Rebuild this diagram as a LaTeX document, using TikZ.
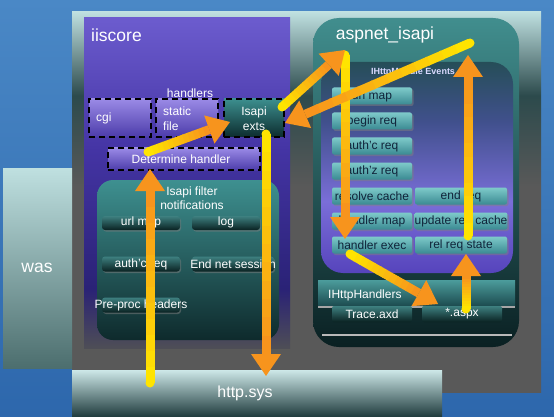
\documentclass[tikz,border=0pt]{standalone}
\usepackage{fontspec}
\setmainfont{Liberation Sans}
\usetikzlibrary{calc,shadows}

\definecolor{bgtop}{HTML}{4A88C6}
\definecolor{bgbot}{HTML}{2D67AC}
\definecolor{frlight}{HTML}{BFE0E0}
\definecolor{frdark}{HTML}{2C4A4C}
\definecolor{frgray}{HTML}{595959}
\definecolor{waslight}{HTML}{BFE0E0}
\definecolor{wasdark}{HTML}{284444}
\definecolor{wasbot}{HTML}{4C6E6E}
\definecolor{httplight}{HTML}{CDE8E8}
\definecolor{httpdark}{HTML}{1E3A3C}
\definecolor{iisA}{HTML}{6C5CCE}
\definecolor{iisB}{HTML}{4434A4}
\definecolor{iisC}{HTML}{2A2276}
\definecolor{iisD}{HTML}{4E4E56}
\definecolor{filtop}{HTML}{3E9090}
\definecolor{filbot}{HTML}{0E2A2C}
\definecolor{purtop}{HTML}{9A8AE6}
\definecolor{purbot}{HTML}{4C3CAA}
\definecolor{teltop}{HTML}{3C8E8E}
\definecolor{telbot}{HTML}{0C2C2E}
\definecolor{asptop}{HTML}{418E8E}
\definecolor{aspbot}{HTML}{0A2022}
\definecolor{modA}{HTML}{264E58}
\definecolor{modM}{HTML}{40508C}
\definecolor{modB}{HTML}{7A6ED8}
\definecolor{modC}{HTML}{5644BC}
\definecolor{btntop}{HTML}{7ECACA}
\definecolor{btnbot}{HTML}{3A8A92}
\definecolor{btntxt}{HTML}{10243A}
\definecolor{dbtop}{HTML}{3E8080}
\definecolor{dbbot}{HTML}{0A2222}
\definecolor{hbtop}{HTML}{4C9C9C}
\definecolor{hbbot}{HTML}{1A484C}
\definecolor{ayellow}{HTML}{FFE400}
\definecolor{aorange}{HTML}{F7941D}

\pgfdeclareverticalshading{outershade}{100bp}{color(0bp)=(frgray); color(52bp)=(frgray); color(64bp)=(frdark); color(75bp)=(frlight); color(100bp)=(frlight)}
\pgfdeclareverticalshading{iisshade}{100bp}{color(0bp)=(iisD); color(25bp)=(iisD); color(34bp)=(iisC); color(55bp)=(iisB); color(75bp)=(iisA); color(100bp)=(iisA)}
\pgfdeclareverticalshading{modshade}{100bp}{color(0bp)=(modC); color(25bp)=(modC); color(42bp)=(modB); color(61bp)=(modM); color(75bp)=(modA); color(100bp)=(modA)}

\newcommand\fatarrow[2]{%
  \coordinate (fabase) at ($(#2)!22pt!(#1)$);
  \fill[ayellow] (#1) circle (4.5pt);
  \foreach \i in {0,...,11}{%
    \pgfmathsetmacro\ta{\i/12}%
    \pgfmathsetmacro\tb{min((\i+1)/12+0.01,1)}%
    \pgfmathtruncatemacro\pc{\i*100/11}%
    \draw[line width=9pt, draw=aorange!\pc!ayellow] ($(#1)!\ta!(fabase)$) -- ($(#1)!\tb!(fabase)$);
  }%
  \fill[aorange] (#2) -- ($(fabase)!15pt!90:(#2)$) -- ($(fabase)!15pt!-90:(#2)$) -- cycle;
}

\begin{document}
\begin{tikzpicture}[x=1pt,y=-1pt,
  box/.style={inner sep=0pt, outer sep=0pt, shade},
  wt/.style={text=white, inner sep=0pt, font=\fontsize{12}{13}\selectfont},
  big/.style={text=white, inner sep=0pt, font=\fontsize{17.5}{19}\selectfont},
  hbox/.style={box, draw=black, line width=2.5pt, dash pattern=on 6pt off 4pt, top color=purtop, bottom color=purbot},
  fbtn/.style={box, rounded corners=3pt, top color=dbtop, bottom color=dbbot, minimum height=14pt,
    drop shadow={shadow xshift=1pt, shadow yshift=-1.5pt, opacity=.5}},
  mbtn/.style={box, rounded corners=2pt, top color=btntop, bottom color=btnbot, minimum height=17pt,
    text=btntxt, font=\fontsize{12}{13}\selectfont,
    drop shadow={shadow xshift=1.5pt, shadow yshift=-1.5pt, opacity=.5}},
  hbtn/.style={box, rounded corners=2pt, top color=dbtop, bottom color=dbbot, minimum height=16pt, minimum width=80pt,
    text=white, font=\fontsize{12}{13}\selectfont},
]
\useasboundingbox (0,0) rectangle (554,417);

% background
\node[box, top color=bgtop, bottom color=bgbot, minimum width=554pt, minimum height=417pt] (bg) at (277,208.5) {};

% worker process frame
\node[box, shading=outershade, minimum width=469pt, minimum height=380pt] (outer) at (306.5,202) {};

% was
\node[box, top color=waslight, middle color=wasdark, bottom color=wasbot, minimum width=69pt, minimum height=200pt] (was) at (37.5,268) {};
\node[big] (waslbl) at (37,268) {was};

% http.sys
\node[box, top color=httplight, bottom color=httpdark, minimum width=370pt, minimum height=47pt] (httpsys) at (257,393.5) {};
\node[big, font=\fontsize{16}{18}\selectfont] (httplbl) at (245,393) {http.sys};

% iiscore
\node[box, shading=iisshade, minimum width=206pt, minimum height=330pt] (iiscore) at (187,183) {};
\node[big, anchor=west] (iislbl) at (91,35) {iiscore};

\node[wt] (handlers) at (190,93) {handlers};
\node[hbox, minimum width=62pt, minimum height=38pt] (cgi) at (120,118) {};
\node[wt, anchor=west] (cgilbl) at (96,118) {cgi};
\node[hbox, minimum width=62pt, minimum height=38pt] (static) at (187,118) {};
\node[wt, anchor=west, align=left, font=\fontsize{12}{15}\selectfont] (staticlbl) at (163,119) {static\\file};
\node[hbox, top color=teltop, bottom color=telbot, minimum width=60pt, minimum height=38pt] (isapi) at (254,118) {};
\node[wt, align=center, font=\fontsize{12}{15}\selectfont] (isapilbl) at (254,119) {Isapi\\exts};
\node[hbox, minimum width=152pt, minimum height=22pt] (dh) at (184,159) {};
\node[wt] (dhlbl) at (181,159) {Determine handler};

% isapi filter notifications
\node[box, rounded corners=16pt, top color=filtop, bottom color=filbot, minimum width=182pt, minimum height=160pt] (filter) at (188,260) {};
\node[wt, align=center, font=\fontsize{12}{14}\selectfont] (filterlbl) at (192,198) {Isapi filter\\notifications};
\node[fbtn, minimum width=78pt] (urlmap) at (141,223) {};
\node[wt] (urlmaplbl) at (141,222) {url map};
\node[fbtn, minimum width=68pt] (log) at (226,223) {};
\node[wt] (loglbl) at (226,222) {log};
\node[fbtn, minimum width=78pt, minimum height=15pt] (authc) at (141,264) {};
\node[wt] (authclbl) at (141,264) {auth'c req};
\node[fbtn, minimum width=82pt, minimum height=15pt] (endnet) at (233,264) {};
\node[wt] (endnetlbl) at (233,264) {End net session};
\node[fbtn, minimum width=78pt, minimum height=15pt] (preproc) at (141,305) {};
\node[wt] (preproclbl) at (141,305) {Pre-proc headers};

% aspnet_isapi
\node[box, rounded corners=26pt, top color=asptop, bottom color=aspbot, minimum width=206pt, minimum height=329pt] (aspnet) at (416,182.5) {};
\node[big] (asplbl) at (385,35) {aspnet\_isapi};

\node[box, rounded corners=22pt, shading=modshade, minimum width=192pt, minimum height=211pt] (modbox) at (417,167.5) {};
\node[text=white!85!blue, inner sep=0pt, font=\bfseries\fontsize{9}{10}\selectfont] (modlbl) at (413,72) {IHttpModule Events};

\node[mbtn, minimum width=80pt] (m1) at (372,96) {url map};
\node[mbtn, minimum width=80pt] (m2) at (372,121) {begin req};
\node[mbtn, minimum width=80pt] (m3) at (372,146) {auth'c req};
\node[mbtn, minimum width=80pt] (m4) at (372,171) {auth'z req};
\node[mbtn, minimum width=80pt] (m5) at (372,196) {resolve cache};
\node[mbtn, minimum width=80pt] (m6) at (372,221) {handler map};
\node[mbtn, minimum width=80pt] (m7) at (372,245) {handler exec};
\node[mbtn, minimum width=92pt] (r1) at (461,196) {end req};
\node[mbtn, minimum width=92pt] (r2) at (461,221) {update req cache};
\node[mbtn, minimum width=92pt] (r3) at (461,245) {rel req state};

% IHttpHandlers
\node[box, top color=hbtop, bottom color=hbbot, minimum width=197pt, minimum height=27pt] (hbar) at (416.5,293.5) {};
\node[wt, anchor=west] (hbarlbl) at (328,295) {IHttpHandlers};
\draw[color=gray!70, line width=1.5pt] (hbar.south west) -- (hbar.south east);
\coordinate (bl1) at (322,335);
\coordinate (bl2) at (512,335);
\draw[color=gray!55, line width=1.5pt] (bl1) -- (bl2);
\node[hbtn] (trace) at (372,314) {Trace.axd};
\node[hbtn] (aspx) at (462,314) {*.aspx};

% arrows
\coordinate (a1s) at (150,383);  \coordinate (a1e) at (150,169);
\coordinate (a2s) at (148,152);  \coordinate (a2e) at (230,122);
\coordinate (a3s) at (282,107);  \coordinate (a3e) at (345,50);
\coordinate (a4s) at (470,43);   \coordinate (a4e) at (285,123);
\coordinate (a5s) at (345,55);   \coordinate (a5e) at (345,239);
\coordinate (a6s) at (350,254);  \coordinate (a6e) at (438,304);
\coordinate (a7s) at (466,309);  \coordinate (a7e) at (466,254);
\coordinate (a8s) at (468,236);  \coordinate (a8e) at (468,55);
\coordinate (a9s) at (266,134);  \coordinate (a9e) at (266,376);

\fatarrow{a1s}{a1e}
\fatarrow{a9s}{a9e}
\fatarrow{a2s}{a2e}
\fatarrow{a5s}{a5e}
\fatarrow{a8s}{a8e}
\fatarrow{a4s}{a4e}
\fatarrow{a3s}{a3e}
\fatarrow{a6s}{a6e}
\fatarrow{a7s}{a7e}
\end{tikzpicture}
\end{document}
